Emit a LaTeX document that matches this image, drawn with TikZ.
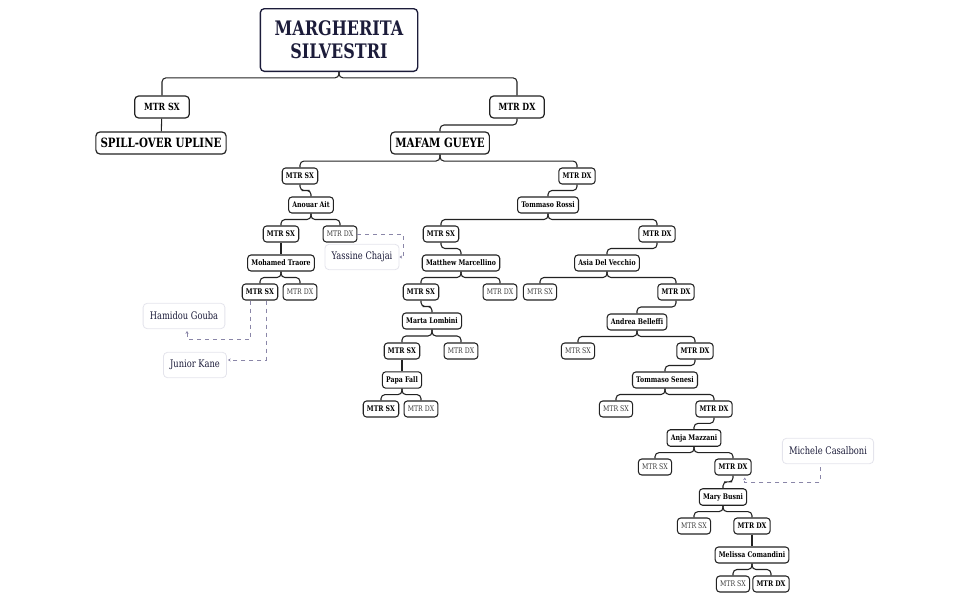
\documentclass[tikz,border=0pt]{standalone}
\usepackage{fontspec}
\setmainfont{DejaVu Serif}[FakeStretch=0.8]
\usetikzlibrary{arrows.meta, calc}

\definecolor{navy}{RGB}{28,28,58}
\definecolor{boxline}{RGB}{34,34,34}
\definecolor{hintline}{RGB}{138,134,168}
\definecolor{softline}{RGB}{228,228,236}
\definecolor{plain}{RGB}{60,60,60}

\tikzset{
  rootbox/.style={draw=navy, line width=1pt, rounded corners=3pt, fill=white, text=navy,
    align=center, minimum width=118pt, minimum height=47pt, font=\fontsize{15}{17}\selectfont\bfseries},
  bigbox/.style={draw=boxline, line width=0.9pt, rounded corners=3pt, fill=white,
    inner xsep=3.5pt, minimum height=16.5pt, font=\fontsize{9.6}{12}\selectfont\bfseries},
  topmtr/.style={draw=boxline, line width=0.9pt, rounded corners=3pt, fill=white,
    minimum width=41pt, minimum height=16.5pt, font=\fontsize{7.4}{9}\selectfont\bfseries},
  leg/.style={draw=boxline, line width=0.8pt, rounded corners=2.5pt, fill=white,
    inner xsep=2.8pt, minimum height=12pt, font=\fontsize{5.8}{7}\selectfont\bfseries},
  legoff/.style={leg, text=plain, font=\fontsize{5.8}{7}\selectfont},
  guest/.style={draw=softline, line width=0.6pt, rounded corners=3pt, fill=white, text=navy,
    inner xsep=5pt, minimum height=19pt, font=\fontsize{7.8}{9}\selectfont},
  link/.style={draw=boxline, line width=0.8pt, rounded corners=3pt},
  hint/.style={draw=hintline, line width=0.7pt, dashed, -{Stealth[length=2pt,width=2.4pt]}}
}

% parent -> child elbow
\newcommand{\branch}[3][.5]{\draw[link] (#2.south) |- ($(#2.south)!#1!(#3.north)$) -| (#3.north);}

\begin{document}
\begin{tikzpicture}[x=0.75pt, y=-0.75pt]
  \useasboundingbox (0,0) rectangle (971,601);

  % top
  \node[rootbox] (root) at (339,40) {MARGHERITA\\SILVESTRI};
  \node[topmtr] (sx0) at (162,107) {MTR SX};
  \node[topmtr] (dx0) at (517,107) {MTR DX};
  \node[bigbox] (spill) at (161,143) {SPILL-OVER UPLINE};
  \node[bigbox] (mafam) at (440,143) {MAFAM GUEYE};

  \branch[.25]{root}{sx0}
  \branch[.25]{root}{dx0}
  \draw[link] (sx0) -- (spill);
  \branch{dx0}{mafam}

  % under Mafam Gueye
  \node[leg] (lsx) at (300,176) {MTR SX};
  \node[leg] (ldx) at (577,176) {MTR DX};
  \node[leg] (anouar) at (311,205) {Anouar Ait};
  \node[leg] (rossi) at (548,205) {Tommaso Rossi};
  \branch{mafam}{lsx}
  \branch{mafam}{ldx}
  \branch{lsx}{anouar}
  \branch{ldx}{rossi}

  % left side
  \node[leg] (ansx) at (281,234) {MTR SX};
  \node[legoff] (andx) at (340,234) {MTR DX};
  \node[leg] (traore) at (281,263) {Mohamed Traore};
  \node[leg] (trsx) at (260,292) {MTR SX};
  \node[legoff] (trdx) at (300,292) {MTR DX};
  \branch{anouar}{ansx}
  \branch{anouar}{andx}
  \draw[link] (ansx) -- (traore);
  \branch{traore}{trsx}
  \branch{traore}{trdx}

  \node[guest] (yassine) at (362,257) {Yassine Chajai};
  \node[guest] (hamidou) at (184,316) {Hamidou Gouba};
  \node[guest] (junior) at (195,365) {Junior Kane};
  \draw[hint] (andx.east) -- ++(46,0) |- (yassine.east);
  \draw[hint] ($(trsx.south)+(-10,0)$) |- ($(hamidou.south)+(3,10)$) -- ($(hamidou.south)+(3,2)$);
  \draw[hint] ($(trsx.south)+(6,0)$) |- ($(junior.east)+(1,-5)$);

  % middle
  \node[leg] (rosx) at (441,234) {MTR SX};
  \node[leg] (rodx) at (657,234) {MTR DX};
  \node[leg] (marcellino) at (461,263) {Matthew Marcellino};
  \node[leg] (vecchio) at (607,263) {Asia Del Vecchio};
  \branch{rossi}{rosx}
  \branch{rossi}{rodx}
  \branch{rosx}{marcellino}
  \branch{rodx}{vecchio}

  \node[leg] (masx) at (421,292) {MTR SX};
  \node[legoff] (madx) at (500,292) {MTR DX};
  \node[legoff] (vesx) at (540,292) {MTR SX};
  \node[leg] (vedx) at (676,292) {MTR DX};
  \branch{marcellino}{masx}
  \branch{marcellino}{madx}
  \branch{vecchio}{vesx}
  \branch{vecchio}{vedx}

  \node[leg] (lombini) at (432,321) {Marta Lombini};
  \node[leg] (belleffi) at (637,322) {Andrea Belleffi};
  \branch{masx}{lombini}
  \branch{vedx}{belleffi}

  \node[leg] (losx) at (402,351) {MTR SX};
  \node[legoff] (lodx) at (461,351) {MTR DX};
  \node[legoff] (besx) at (578,351) {MTR SX};
  \node[leg] (bedx) at (695,351) {MTR DX};
  \branch{lombini}{losx}
  \branch{lombini}{lodx}
  \branch{belleffi}{besx}
  \branch{belleffi}{bedx}

  \node[leg] (fall) at (402,380) {Papa Fall};
  \node[leg] (senesi) at (665,380) {Tommaso Senesi};
  \draw[link] (losx) -- (fall);
  \branch{bedx}{senesi}

  \node[leg] (fasx) at (381,409) {MTR SX};
  \node[legoff] (fadx) at (421,409) {MTR DX};
  \node[legoff] (sesx) at (616,409) {MTR SX};
  \node[leg] (sedx) at (714,409) {MTR DX};
  \branch{fall}{fasx}
  \branch{fall}{fadx}
  \branch{senesi}{sesx}
  \branch{senesi}{sedx}

  % right, going down
  \node[leg] (mazzani) at (694,438) {Anja Mazzani};
  \node[legoff] (mzsx) at (655,467) {MTR SX};
  \node[leg] (mzdx) at (733,467) {MTR DX};
  \branch{sedx}{mazzani}
  \branch{mazzani}{mzsx}
  \branch{mazzani}{mzdx}

  \node[guest] (casalboni) at (828,451) {Michele Casalboni};
  \draw[hint] ($(casalboni.south)+(-8,3)$) |- ($(mzdx.south east)+(-7,7)$) -- ($(mzdx.south east)+(-7,2)$);

  \node[leg] (busni) at (723,497) {Mary Busni};
  \node[legoff] (busx) at (694,526) {MTR SX};
  \node[leg] (budx) at (752,526) {MTR DX};
  \branch{mzdx}{busni}
  \branch{busni}{busx}
  \branch{busni}{budx}

  \node[leg] (comandini) at (752,555) {Melissa Comandini};
  \node[legoff] (cosx) at (733,584) {MTR SX};
  \node[leg] (codx) at (771,584) {MTR DX};
  \draw[link] (budx) -- (comandini);
  \branch{comandini}{cosx}
  \branch{comandini}{codx}
\end{tikzpicture}
\end{document}
